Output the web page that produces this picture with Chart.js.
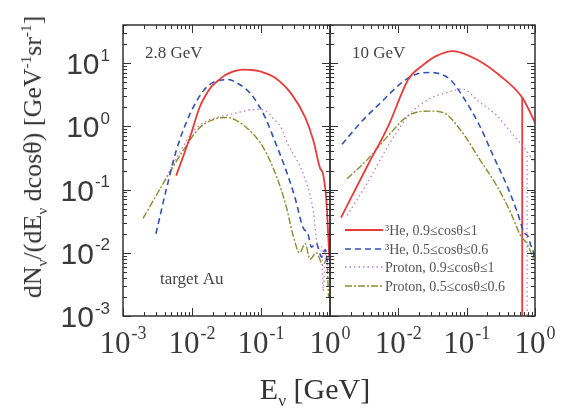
<!DOCTYPE html>
<html lang="en">
<head>
<meta charset="UTF-8" />
<title>Neutrino spectra, target Au</title>
<script src="https://cdn.jsdelivr.net/npm/chart.js"></script>
<style>
  body { margin: 0; background: #fff; width: 564px; height: 416px; position: relative; overflow: hidden;
         font-family: "Liberation Serif", "DejaVu Serif", serif; color: #333; }
  canvas { position: absolute; top: 0; }
  #left { left: 0; }
  #right { left: 300px; }
  .ytitle { position: absolute; left: 33px; top: 157px; transform: translate(-50%, -50%) rotate(-90deg);
            white-space: nowrap; font-size: 26px; line-height: 1; }
  .xtitle { position: absolute; left: 315px; top: 389px; transform: translate(-50%, -50%);
            white-space: nowrap; font-size: 30px; line-height: 1; }
  sub, sup { font-size: 58%; line-height: 0; }
</style>
</head>
<body>
<canvas id="left" width="360" height="416"></canvas>
<canvas id="right" width="264" height="416"></canvas>
<div class="ytitle">dN<sub>ν</sub>/(dE<sub>ν</sub> dcosθ) [GeV<sup>-1</sup>sr<sup>-1</sup>]</div>
<div class="xtitle">E<sub>ν</sub> [GeV]</div>

<script>
  // E in GeV, flux in GeV^-1 sr^-1
  // 2.8 GeV panel
  const eHeFwd28 = [0.0059, 0.0093, 0.0129, 0.0155, 0.019, 0.024, 0.030, 0.040, 0.055, 0.08, 0.10, 0.158, 0.279, 0.437, 0.575, 0.716, 0.79, 0.85, 0.89, 0.93, 0.98];
  const nHeFwd28 = [0.166, 0.66, 2.0, 3.0, 4.2, 5.3, 6.4, 7.4, 7.9, 7.7, 7.3, 5.9, 3.2, 1.38, 0.59, 0.22, 0.18, 0.107, 0.063, 0.025, 0.008];
  const eHeBwd28 = [0.0030, 0.0043, 0.0059, 0.0093, 0.0145, 0.020, 0.027, 0.033, 0.047, 0.072, 0.115, 0.158, 0.224, 0.309, 0.407, 0.479, 0.537, 0.631, 0.759, 0.851, 0.933];
  const nHeBwd28 = [0.020, 0.107, 0.41, 1.55, 3.6, 4.9, 5.4, 5.5, 4.7, 3.2, 1.38, 0.59, 0.22, 0.076, 0.025, 0.020, 0.0123, 0.0141, 0.0085, 0.0112, 0.0063];
  const ePFwd28 = [0.0040, 0.0063, 0.010, 0.0158, 0.025, 0.040, 0.063, 0.087, 0.126, 0.151, 0.191, 0.245, 0.316, 0.407, 0.562, 0.676, 0.759, 0.794, 0.871, 0.955];
  const nPFwd28 = [0.14, 0.35, 0.79, 1.2, 1.41, 1.58, 1.78, 1.86, 1.66, 1.32, 1.0, 0.52, 0.32, 0.18, 0.052, 0.012, 0.0126, 0.0025, 0.01, 0.005];
  const ePBwd28 = [0.00195, 0.0038, 0.0074, 0.0129, 0.0224, 0.0316, 0.0617, 0.107, 0.170, 0.234, 0.288, 0.363, 0.437, 0.513, 0.631, 0.794, 0.891, 0.955];
  const nPBwd28 = [0.035, 0.123, 0.41, 0.95, 1.32, 1.38, 0.95, 0.47, 0.155, 0.052, 0.020, 0.010, 0.014, 0.0079, 0.010, 0.0063, 0.0079, 0.002];

  // 10 GeV panel
  const eHeFwd10 = [0.00145, 0.00355, 0.0071, 0.0141, 0.0224, 0.0355, 0.063, 0.138, 0.309, 0.65, 1.0];
  const nHeFwd10 = [0.036, 0.24, 1.0, 5.6, 9.1, 12.9, 15.5, 11.5, 6.3, 2.85, 1.15];
  const eHeBwd10 = [0.00150, 0.00282, 0.0056, 0.0112, 0.0178, 0.0282, 0.0562, 0.087, 0.155, 0.245, 0.389, 0.550, 0.692, 0.794, 0.871, 0.933, 0.977];
  const nHeBwd10 = [0.52, 1.15, 2.4, 4.9, 6.6, 7.1, 5.6, 3.0, 1.02, 0.34, 0.115, 0.044, 0.021, 0.018, 0.0129, 0.0112, 0.0079];
  const ePFwd10 = [0.00178, 0.00355, 0.0071, 0.0141, 0.0282, 0.0562, 0.087, 0.155, 0.275, 0.490, 0.765, 1.0];
  const nPFwd10 = [0.039, 0.129, 0.49, 1.48, 2.7, 3.5, 3.9, 2.4, 1.48, 0.71, 0.40, 0.26];
  const ePBwd10 = [0.00178, 0.00355, 0.0071, 0.0141, 0.0282, 0.0447, 0.087, 0.155, 0.275, 0.437, 0.617, 0.759, 0.871, 0.955];
  const nPBwd10 = [0.148, 0.30, 0.71, 1.48, 1.74, 1.66, 0.79, 0.30, 0.115, 0.044, 0.0186, 0.0141, 0.0102, 0.0079];
  // empty bins: the curve falls straight down to the axis
  const eDropHe10 = [0.65, 0.65];
  const nDropHe10 = [2.85, 0.0005];
  const eDropP10 = [0.765, 0.765];
  const nDropP10 = [0.40, 0.0005];

  const seriesLabels = ['³He, 0.9≤cosθ≤1', '³He, 0.5≤cosθ≤0.6', 'Proton, 0.9≤cosθ≤1', 'Proton, 0.5≤cosθ≤0.6'];
  const yExps = [-3, -2, -1, 0, 1];
  const xExpsLeft = [-3, -2, -1, 0];
  const xExpsRight = [-2, -1, 0];

  const styles = [
    { borderColor: '#e63c3a', borderWidth: 1.8, borderDash: [] },
    { borderColor: '#3153b3', borderWidth: 1.6, borderDash: [6, 4] },
    { borderColor: '#c87ac8', borderWidth: 1.3, borderDash: [1.5, 3] },
    { borderColor: '#878d30', borderWidth: 1.4, borderDash: [7, 2, 2, 2] }
  ];

  function toPoints(es, ns) {
    return es.map((e, i) => ({ x: e, y: ns[i] }));
  }

  // sets: [E, N, styleIndex]
  function makeDatasets(sets) {
    return sets.map((s, i) => {
      const st = styles[s[2]];
      return {
        label: i < 4 ? seriesLabels[s[2]] : '',
        data: toPoints(s[0], s[1]),
        borderColor: st.borderColor,
        borderWidth: st.borderWidth,
        borderDash: st.borderDash,
        pointRadius: 0,
        fill: false,
        cubicInterpolationMode: 'monotone'
      };
    });
  }

  function drawPow(ctx, exp, x, y, size, family, align) {
    const base = '10', sup = String(exp);
    ctx.font = size + 'px ' + family;
    const wb = ctx.measureText(base).width;
    const ss = Math.round(size * 0.58);
    ctx.font = ss + 'px ' + family;
    const ws = ctx.measureText(sup).width;
    const total = wb + ws + 1;
    let x0 = align === 'right' ? x - total : x - total / 2;
    ctx.textAlign = 'left';
    ctx.textBaseline = 'alphabetic';
    ctx.font = size + 'px ' + family;
    ctx.fillText(base, x0, y);
    ctx.font = ss + 'px ' + family;
    ctx.fillText(sup, x0 + wb + 1, y - size * 0.45);
  }

  // frame, inward ticks on all sides, tick labels and panel text
  const panelDecor = {
    id: 'panelDecor',
    afterDatasetsDraw(chart, args, opts) {
      const { ctx, chartArea: a, scales } = chart;
      const x = scales.x, y = scales.y;
      ctx.save();
      ctx.strokeStyle = '#333';
      ctx.lineWidth = 1;
      ctx.beginPath();
      for (let e = -3; e <= 0; e++) {
        for (let m = 1; m <= 9; m++) {
          const v = m * Math.pow(10, e);
          if (v > 1.0001) continue;
          const px = Math.round(x.getPixelForValue(v)) + 0.5;
          const len = m === 1 ? 8 : 4;
          ctx.moveTo(px, a.bottom); ctx.lineTo(px, a.bottom - len);
          ctx.moveTo(px, a.top); ctx.lineTo(px, a.top + len);
        }
      }
      for (let e = -3; e <= 1; e++) {
        for (let m = 1; m <= 9; m++) {
          const v = m * Math.pow(10, e);
          if (v > 40) continue;
          const py = Math.round(y.getPixelForValue(v)) + 0.5;
          const len = m === 1 ? 8 : 4;
          ctx.moveTo(a.left, py); ctx.lineTo(a.left + len, py);
          ctx.moveTo(a.right, py); ctx.lineTo(a.right - len, py);
        }
      }
      ctx.stroke();
      ctx.lineWidth = 1.5;
      ctx.strokeRect(a.left, a.top, a.right - a.left, a.bottom - a.top);

      ctx.fillStyle = '#3a3a3a';
      opts.xExps.forEach(ex => {
        drawPow(ctx, ex, x.getPixelForValue(Math.pow(10, ex)), 353, 31, '"Liberation Serif", serif', 'center');
      });
      if (opts.showY) {
        yExps.forEach(ex => {
          drawPow(ctx, ex, 110, y.getPixelForValue(Math.pow(10, ex)) + 11, 30, '"Liberation Sans", Arial, sans-serif', 'right');
        });
      }
      ctx.fillStyle = '#444';
      ctx.font = '17px "Liberation Serif", serif';
      ctx.textAlign = 'left';
      ctx.fillText(opts.energy, a.left + 22, 58);
      if (opts.target) ctx.fillText(opts.target, a.left + 37, 284);

      if (opts.legend) {
        const rows = [230, 249, 267, 286];
        chart.data.datasets.slice(0, 4).forEach((ds, i) => {
          ctx.strokeStyle = ds.borderColor;
          ctx.lineWidth = ds.borderWidth;
          ctx.setLineDash(ds.borderDash);
          ctx.beginPath();
          ctx.moveTo(a.left + 15, rows[i]);
          ctx.lineTo(a.left + 53, rows[i]);
          ctx.stroke();
          ctx.setLineDash([]);
          ctx.fillStyle = '#555';
          ctx.font = '14px "Liberation Serif", serif';
          ctx.textBaseline = 'middle';
          ctx.fillText(ds.label, a.left + 55, rows[i] + 1);
        });
      }
      ctx.restore();
    }
  };

  function makePanel(id, sets, padding, decor) {
    return new Chart(document.getElementById(id), {
      type: 'line',
      data: { datasets: makeDatasets(sets) },
      options: {
        responsive: false,
        animation: false,
        layout: { padding },
        plugins: { legend: { display: false }, tooltip: { enabled: false }, panelDecor: decor },
        scales: {
          x: { type: 'logarithmic', min: 0.001, max: 1, display: false },
          y: { type: 'logarithmic', min: 0.001, max: 40, display: false }
        }
      },
      plugins: [panelDecor]
    });
  }

  makePanel('left', [[eHeFwd28, nHeFwd28, 0], [eHeBwd28, nHeBwd28, 1], [ePFwd28, nPFwd28, 2], [ePBwd28, nPBwd28, 3]],
    { left: 123, right: 30, top: 25, bottom: 100 },
    { showY: true, xExps: xExpsLeft, energy: '2.8 GeV', target: 'target Au', legend: false });

  makePanel('right', [[eHeFwd10, nHeFwd10, 0], [eHeBwd10, nHeBwd10, 1], [ePFwd10, nPFwd10, 2], [ePBwd10, nPBwd10, 3],
                      [eDropHe10, nDropHe10, 0], [eDropP10, nDropP10, 2]],
    { left: 30, right: 29, top: 25, bottom: 100 },
    { showY: false, xExps: xExpsRight, energy: '10 GeV', target: null, legend: true });
</script>
</body>
</html>
